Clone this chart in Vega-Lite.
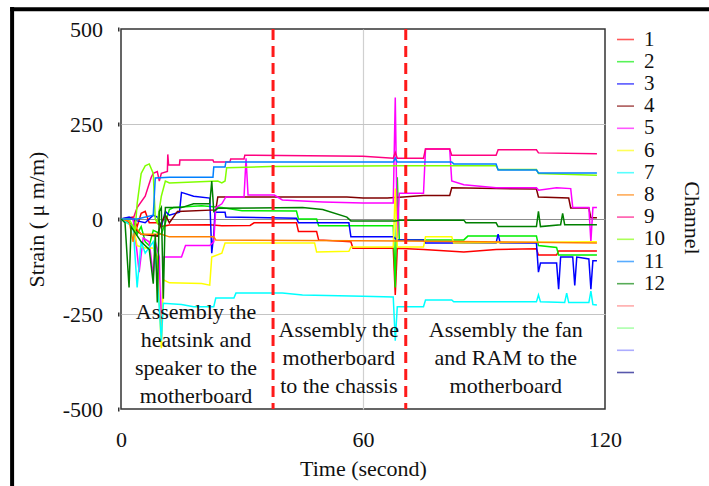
{
  "$schema": "https://vega.github.io/schema/vega-lite/v6.json",
  "width": 484,
  "height": 380,
  "autosize": {"type": "none"},
  "padding": {"left": 121, "top": 29, "right": 104, "bottom": 77},
  "background": "white",
  "config": {
    "font": "Liberation Serif, Times New Roman, DejaVu Serif, serif",
    "view": {"stroke": "#333333", "strokeWidth": 1.5},
    "axis": {"labelFont": "Liberation Serif, Times New Roman, DejaVu Serif, serif", "titleFont": "Liberation Serif, Times New Roman, DejaVu Serif, serif", "labelFontSize": 22, "titleFontSize": 22, "labelColor": "#111111", "titleColor": "#111111", "titleFontWeight": "normal"},
    "text": {"font": "Liberation Serif, Times New Roman, DejaVu Serif, serif"},
    "legend": {"orient": "right", "offset": 10, "labelFont": "Liberation Serif, Times New Roman, DejaVu Serif, serif", "labelFontSize": 21, "labelColor": "#111111", "symbolType": "stroke", "symbolSize": 289, "symbolStrokeWidth": 1.6, "symbolOpacity": 0.65, "rowPadding": 0.2, "labelOffset": 8}
  },
  "data": {"values": [
{"ch":"1","t":0,"v":0},{"ch":"1","t":3,"v":5},{"ch":"1","t":4,"v":-20},{"ch":"1","t":5,"v":15},{"ch":"1","t":6,"v":20},{"ch":"1","t":7,"v":-10},{"ch":"1","t":9,"v":-10},{"ch":"1","t":10,"v":-20},{"ch":"1","t":12,"v":-16},{"ch":"1","t":22,"v":-15},{"ch":"1","t":25,"v":-18},{"ch":"1","t":32,"v":-17},{"ch":"1","t":33,"v":-10},{"ch":"1","t":43.5,"v":-10},{"ch":"1","t":44,"v":-33},{"ch":"1","t":48.5,"v":-33},{"ch":"1","t":49,"v":-55},{"ch":"1","t":57,"v":-60},{"ch":"1","t":57.5,"v":-77},{"ch":"1","t":67.5,"v":-77},{"ch":"1","t":68,"v":-200},{"ch":"1","t":68.5,"v":-77},{"ch":"1","t":75,"v":-80},{"ch":"1","t":85,"v":-87},{"ch":"1","t":93,"v":-80},{"ch":"1","t":103,"v":-78},{"ch":"1","t":103.5,"v":-95},{"ch":"1","t":108,"v":-95},{"ch":"1","t":108.5,"v":-84},{"ch":"1","t":118,"v":-84},
{"ch":"2","t":0,"v":0},{"ch":"2","t":3,"v":0},{"ch":"2","t":4,"v":-40},{"ch":"2","t":5,"v":-20},{"ch":"2","t":6,"v":-60},{"ch":"2","t":7,"v":-70},{"ch":"2","t":8,"v":-30},{"ch":"2","t":10,"v":-40},{"ch":"2","t":11,"v":-10},{"ch":"2","t":12,"v":25},{"ch":"2","t":13,"v":30},{"ch":"2","t":20,"v":35},{"ch":"2","t":25,"v":30},{"ch":"2","t":30,"v":22},{"ch":"2","t":43.5,"v":21},{"ch":"2","t":44,"v":0},{"ch":"2","t":48.5,"v":0},{"ch":"2","t":49,"v":-18},{"ch":"2","t":67.5,"v":-18},{"ch":"2","t":68,"v":-180},{"ch":"2","t":68.5,"v":110},{"ch":"2","t":69,"v":-55},{"ch":"2","t":85,"v":-55},{"ch":"2","t":86,"v":-45},{"ch":"2","t":103,"v":-45},{"ch":"2","t":103.5,"v":-70},{"ch":"2","t":108,"v":-75},{"ch":"2","t":108.5,"v":-95},{"ch":"2","t":118,"v":-95},
{"ch":"3","t":0,"v":0},{"ch":"3","t":2,"v":5},{"ch":"3","t":4,"v":-5},{"ch":"3","t":6,"v":-10},{"ch":"3","t":8,"v":10},{"ch":"3","t":9,"v":5},{"ch":"3","t":10,"v":-20},{"ch":"3","t":11,"v":20},{"ch":"3","t":12,"v":10},{"ch":"3","t":14.5,"v":18},{"ch":"3","t":15,"v":70},{"ch":"3","t":18,"v":60},{"ch":"3","t":22,"v":55},{"ch":"3","t":22.5,"v":-90},{"ch":"3","t":23,"v":-40},{"ch":"3","t":23.3,"v":18},{"ch":"3","t":25.8,"v":18},{"ch":"3","t":26,"v":5},{"ch":"3","t":43.5,"v":2},{"ch":"3","t":44,"v":-10},{"ch":"3","t":56.5,"v":-10},{"ch":"3","t":57,"v":-47},{"ch":"3","t":67.5,"v":-47},{"ch":"3","t":68.5,"v":-55},{"ch":"3","t":75,"v":-55},{"ch":"3","t":75.5,"v":-63},{"ch":"3","t":93,"v":-63},{"ch":"3","t":93.5,"v":-40},{"ch":"3","t":94,"v":-63},{"ch":"3","t":103,"v":-63},{"ch":"3","t":103.5,"v":-140},{"ch":"3","t":104,"v":-116},{"ch":"3","t":108,"v":-116},{"ch":"3","t":108.5,"v":-185},{"ch":"3","t":109,"v":-100},{"ch":"3","t":112,"v":-100},{"ch":"3","t":112.5,"v":-175},{"ch":"3","t":113,"v":-100},{"ch":"3","t":116,"v":-105},{"ch":"3","t":116.5,"v":-185},{"ch":"3","t":117,"v":-110},{"ch":"3","t":118,"v":-110},
{"ch":"4","t":0,"v":0},{"ch":"4","t":2,"v":-10},{"ch":"4","t":3,"v":-20},{"ch":"4","t":5,"v":-40},{"ch":"4","t":9,"v":-45},{"ch":"4","t":10,"v":-10},{"ch":"4","t":11,"v":10},{"ch":"4","t":12,"v":-10},{"ch":"4","t":14,"v":20},{"ch":"4","t":23.5,"v":24},{"ch":"4","t":24,"v":58},{"ch":"4","t":56,"v":58},{"ch":"4","t":60,"v":55},{"ch":"4","t":66,"v":55},{"ch":"4","t":70,"v":58},{"ch":"4","t":75,"v":62},{"ch":"4","t":81.5,"v":62},{"ch":"4","t":82,"v":82},{"ch":"4","t":93,"v":80},{"ch":"4","t":103,"v":79},{"ch":"4","t":103.5,"v":58},{"ch":"4","t":111,"v":55},{"ch":"4","t":111.5,"v":29},{"ch":"4","t":116,"v":29},{"ch":"4","t":116.5,"v":3},{"ch":"4","t":118,"v":3},
{"ch":"5","t":0,"v":0},{"ch":"5","t":3,"v":0},{"ch":"5","t":4,"v":-90},{"ch":"5","t":4.5,"v":-140},{"ch":"5","t":5.5,"v":-50},{"ch":"5","t":7,"v":-60},{"ch":"5","t":8,"v":-150},{"ch":"5","t":8.5,"v":-60},{"ch":"5","t":9.5,"v":-100},{"ch":"5","t":10,"v":-320},{"ch":"5","t":10.5,"v":-100},{"ch":"5","t":15,"v":-100},{"ch":"5","t":16,"v":-70},{"ch":"5","t":22,"v":-70},{"ch":"5","t":23,"v":-60},{"ch":"5","t":23.5,"v":30},{"ch":"5","t":25,"v":40},{"ch":"5","t":26,"v":58},{"ch":"5","t":30.5,"v":58},{"ch":"5","t":31,"v":160},{"ch":"5","t":31.5,"v":63},{"ch":"5","t":38,"v":63},{"ch":"5","t":40,"v":50},{"ch":"5","t":50,"v":45},{"ch":"5","t":60,"v":42},{"ch":"5","t":67.5,"v":42},{"ch":"5","t":68,"v":320},{"ch":"5","t":68.5,"v":-50},{"ch":"5","t":69,"v":68},{"ch":"5","t":75,"v":68},{"ch":"5","t":75.5,"v":184},{"ch":"5","t":81.5,"v":184},{"ch":"5","t":82,"v":100},{"ch":"5","t":85,"v":90},{"ch":"5","t":93,"v":82},{"ch":"5","t":103,"v":82},{"ch":"5","t":103.5,"v":76},{"ch":"5","t":108,"v":82},{"ch":"5","t":111.5,"v":80},{"ch":"5","t":112,"v":30},{"ch":"5","t":116,"v":30},{"ch":"5","t":116.5,"v":-60},{"ch":"5","t":117,"v":30},{"ch":"5","t":118,"v":30},
{"ch":"6","t":0,"v":0},{"ch":"6","t":3,"v":-20},{"ch":"6","t":4,"v":-70},{"ch":"6","t":6,"v":-76},{"ch":"6","t":8,"v":-76},{"ch":"6","t":9,"v":-100},{"ch":"6","t":10,"v":-340},{"ch":"6","t":10.5,"v":-160},{"ch":"6","t":12,"v":-168},{"ch":"6","t":20,"v":-170},{"ch":"6","t":22,"v":-174},{"ch":"6","t":22.5,"v":-100},{"ch":"6","t":25,"v":-90},{"ch":"6","t":25.8,"v":-63},{"ch":"6","t":48,"v":-63},{"ch":"6","t":48.5,"v":-87},{"ch":"6","t":56.5,"v":-85},{"ch":"6","t":57,"v":-74},{"ch":"6","t":67.5,"v":-74},{"ch":"6","t":68,"v":80},{"ch":"6","t":68.5,"v":-74},{"ch":"6","t":75,"v":-74},{"ch":"6","t":75.5,"v":-47},{"ch":"6","t":82,"v":-47},{"ch":"6","t":82.5,"v":-63},{"ch":"6","t":118,"v":-60},
{"ch":"7","t":0,"v":0},{"ch":"7","t":3,"v":-20},{"ch":"7","t":4,"v":-180},{"ch":"7","t":5,"v":-60},{"ch":"7","t":6,"v":-90},{"ch":"7","t":8,"v":-60},{"ch":"7","t":9,"v":-150},{"ch":"7","t":10,"v":-320},{"ch":"7","t":10.5,"v":-222},{"ch":"7","t":15,"v":-225},{"ch":"7","t":18,"v":-231},{"ch":"7","t":23,"v":-231},{"ch":"7","t":23.5,"v":-208},{"ch":"7","t":28,"v":-208},{"ch":"7","t":28.5,"v":-195},{"ch":"7","t":40,"v":-195},{"ch":"7","t":45,"v":-200},{"ch":"7","t":60,"v":-203},{"ch":"7","t":67.5,"v":-205},{"ch":"7","t":68,"v":-320},{"ch":"7","t":68.5,"v":-231},{"ch":"7","t":75,"v":-231},{"ch":"7","t":75.5,"v":-213},{"ch":"7","t":82,"v":-213},{"ch":"7","t":82.5,"v":-218},{"ch":"7","t":103,"v":-218},{"ch":"7","t":103.5,"v":-200},{"ch":"7","t":104,"v":-218},{"ch":"7","t":110,"v":-220},{"ch":"7","t":110.5,"v":-195},{"ch":"7","t":111,"v":-220},{"ch":"7","t":116,"v":-220},{"ch":"7","t":116.5,"v":-190},{"ch":"7","t":117,"v":-225},{"ch":"7","t":118,"v":-226},
{"ch":"8","t":0,"v":0},{"ch":"8","t":2,"v":-5},{"ch":"8","t":3,"v":-60},{"ch":"8","t":3.5,"v":-20},{"ch":"8","t":5,"v":-40},{"ch":"8","t":10,"v":-40},{"ch":"8","t":12,"v":-47},{"ch":"8","t":23,"v":-47},{"ch":"8","t":23.5,"v":-55},{"ch":"8","t":70,"v":-58},{"ch":"8","t":118,"v":-63},
{"ch":"9","t":0,"v":0},{"ch":"9","t":3,"v":0},{"ch":"9","t":4,"v":30},{"ch":"9","t":6,"v":60},{"ch":"9","t":7.5,"v":110},{"ch":"9","t":8,"v":120},{"ch":"9","t":9,"v":125},{"ch":"9","t":9.5,"v":100},{"ch":"9","t":10,"v":120},{"ch":"9","t":11.5,"v":125},{"ch":"9","t":11.6,"v":170},{"ch":"9","t":11.8,"v":142},{"ch":"9","t":14.5,"v":142},{"ch":"9","t":14.6,"v":155},{"ch":"9","t":22.8,"v":155},{"ch":"9","t":23,"v":150},{"ch":"9","t":27,"v":150},{"ch":"9","t":27.2,"v":158},{"ch":"9","t":30.5,"v":158},{"ch":"9","t":30.7,"v":168},{"ch":"9","t":60,"v":165},{"ch":"9","t":67.5,"v":160},{"ch":"9","t":68,"v":175},{"ch":"9","t":68.5,"v":160},{"ch":"9","t":75,"v":160},{"ch":"9","t":75.5,"v":184},{"ch":"9","t":81.5,"v":184},{"ch":"9","t":82,"v":168},{"ch":"9","t":93,"v":168},{"ch":"9","t":93.5,"v":182},{"ch":"9","t":103,"v":182},{"ch":"9","t":103.5,"v":174},{"ch":"9","t":118,"v":172},
{"ch":"10","t":0,"v":0},{"ch":"10","t":2,"v":0},{"ch":"10","t":3.5,"v":-30},{"ch":"10","t":4,"v":40},{"ch":"10","t":5,"v":120},{"ch":"10","t":6,"v":140},{"ch":"10","t":7,"v":145},{"ch":"10","t":8,"v":120},{"ch":"10","t":8.5,"v":0},{"ch":"10","t":9,"v":-10},{"ch":"10","t":10,"v":60},{"ch":"10","t":11,"v":100},{"ch":"10","t":12,"v":95},{"ch":"10","t":24,"v":100},{"ch":"10","t":25,"v":95},{"ch":"10","t":25.8,"v":100},{"ch":"10","t":26.2,"v":135},{"ch":"10","t":37,"v":138},{"ch":"10","t":70,"v":140},{"ch":"10","t":93,"v":140},{"ch":"10","t":93.5,"v":130},{"ch":"10","t":103,"v":130},{"ch":"10","t":103.5,"v":120},{"ch":"10","t":118,"v":115},
{"ch":"11","t":0,"v":0},{"ch":"11","t":4,"v":0},{"ch":"11","t":8,"v":10},{"ch":"11","t":8.5,"v":108},{"ch":"11","t":12,"v":110},{"ch":"11","t":22.8,"v":110},{"ch":"11","t":23,"v":137},{"ch":"11","t":25.8,"v":137},{"ch":"11","t":26,"v":150},{"ch":"11","t":67.5,"v":150},{"ch":"11","t":68,"v":160},{"ch":"11","t":68.5,"v":150},{"ch":"11","t":82,"v":150},{"ch":"11","t":82.5,"v":145},{"ch":"11","t":93,"v":145},{"ch":"11","t":93.5,"v":129},{"ch":"11","t":103,"v":129},{"ch":"11","t":103.5,"v":121},{"ch":"11","t":118,"v":121},
{"ch":"12","t":0,"v":0},{"ch":"12","t":1,"v":-10},{"ch":"12","t":2,"v":-180},{"ch":"12","t":2.5,"v":-20},{"ch":"12","t":5,"v":-60},{"ch":"12","t":7,"v":-80},{"ch":"12","t":8,"v":-170},{"ch":"12","t":8.5,"v":-40},{"ch":"12","t":9,"v":-220},{"ch":"12","t":9.5,"v":20},{"ch":"12","t":10,"v":30},{"ch":"12","t":10.5,"v":-210},{"ch":"12","t":11,"v":30},{"ch":"12","t":15,"v":30},{"ch":"12","t":18,"v":40},{"ch":"12","t":22,"v":40},{"ch":"12","t":22.5,"v":100},{"ch":"12","t":23,"v":20},{"ch":"12","t":24,"v":28},{"ch":"12","t":45,"v":30},{"ch":"12","t":50,"v":25},{"ch":"12","t":56,"v":5},{"ch":"12","t":57,"v":-5},{"ch":"12","t":68,"v":-5},{"ch":"12","t":69,"v":-3},{"ch":"12","t":85,"v":-3},{"ch":"12","t":85.5,"v":-10},{"ch":"12","t":93,"v":-10},{"ch":"12","t":93.5,"v":-20},{"ch":"12","t":103,"v":-20},{"ch":"12","t":103.5,"v":20},{"ch":"12","t":104,"v":-20},{"ch":"12","t":109,"v":-15},{"ch":"12","t":109.5,"v":15},{"ch":"12","t":110,"v":-15},{"ch":"12","t":118,"v":-15}
  ]},
  "layer": [
    {
      "mark": {"type": "line", "strokeWidth": 1.5, "interpolate": "linear"},
      "encoding": {
        "x": {"field": "t", "type": "quantitative", "scale": {"domain": [0, 120], "nice": false, "zero": false},
          "axis": {"values": [0, 60, 120], "title": "Time (second)", "domain": false, "ticks": false, "labelPadding": 20, "titlePadding": 8, "labelFlush": false, "grid": true, "gridColor": "#d0d0d0", "gridWidth": 1.2, "gridOpacity": {"condition": {"test": "datum.value === 60", "value": 1}, "value": 0}}},
        "y": {"field": "v", "type": "quantitative", "scale": {"domain": [-500, 500], "nice": false},
          "axis": {"values": [-500, -250, 0, 250, 500], "title": "Strain ( μ m/m)", "labelExpr": "'' + datum.value", "domain": false, "tickSize": 1.5, "tickWidth": 4, "tickColor": "#333333", "offset": 2, "labelPadding": 15, "titlePadding": 14, "grid": true, "gridWidth": 1.2, "gridColor": {"condition": {"test": "datum.value === 0", "value": "#8c8c8c"}, "value": "#c4c4c4"}, "gridOpacity": {"condition": {"test": "abs(datum.value) === 500", "value": 0}, "value": 1}}},
        "color": {"field": "ch", "type": "nominal",
          "scale": {"domain": ["1","2","3","4","5","6","7","8","9","10","11","12","13","14","15","16"],
                    "range": ["#ff0000","#00ee00","#0000ff","#800000","#ff00ff","#ffff00","#00ffff","#ff8000","#ff0080","#80ff00","#0080ff","#008000","#ff8080","#80ff80","#8080ff","#000080"]},
          "legend": {"title": null, "labelExpr": "toNumber(datum.value) > 12 ? ' ' : datum.label"}},
        "order": {"field": "t", "type": "quantitative"}
      }
    },
    {
      "data": {"values": [{"boundary": 37.7}, {"boundary": 70.6}]},
      "mark": {"type": "rule", "color": "#ff1a1a", "strokeWidth": 3, "strokeDash": [11, 6]},
      "encoding": {"x": {"field": "boundary", "type": "quantitative"}}
    },
    {
      "data": {"values": [{}]},
      "mark": {"type": "text", "text": ["Assembly the", "heatsink and", "speaker to the", "motherboard"], "fontSize": 22, "lineHeight": 28, "align": "center", "baseline": "top", "color": "#111111"},
      "encoding": {"x": {"datum": 18.6, "type": "quantitative"}, "y": {"datum": -218, "type": "quantitative"}}
    },
    {
      "data": {"values": [{}]},
      "mark": {"type": "text", "text": ["Assembly the", "motherboard", "to the chassis"], "fontSize": 22, "lineHeight": 28, "align": "center", "baseline": "top", "color": "#111111"},
      "encoding": {"x": {"datum": 54.0, "type": "quantitative"}, "y": {"datum": -266, "type": "quantitative"}}
    },
    {
      "data": {"values": [{}]},
      "mark": {"type": "text", "text": ["Assembly the fan", "and RAM to the", "motherboard"], "fontSize": 22, "lineHeight": 28, "align": "center", "baseline": "top", "color": "#111111"},
      "encoding": {"x": {"datum": 95.4, "type": "quantitative"}, "y": {"datum": -266, "type": "quantitative"}}
    },
    {
      "data": {"values": [{}]},
      "mark": {"type": "text", "text": "Channel", "fontSize": 22, "angle": 90, "align": "center", "baseline": "middle", "color": "#111111", "clip": false},
      "encoding": {"x": {"datum": 141.6, "type": "quantitative"}, "y": {"datum": 3, "type": "quantitative"}}
    },
    {
      "data": {"values": [{}]},
      "mark": {"type": "rule", "color": "#000000", "strokeWidth": 4},
      "encoding": {"x": {"datum": -27.5, "type": "quantitative"}, "x2": {"datum": 146}, "y": {"datum": 552, "type": "quantitative"}}
    },
    {
      "data": {"values": [{}]},
      "mark": {"type": "rule", "color": "#000000", "strokeWidth": 4},
      "encoding": {"x": {"datum": -27, "type": "quantitative"}, "y": {"datum": 558, "type": "quantitative"}, "y2": {"datum": -710}}
    }
  ]
}
